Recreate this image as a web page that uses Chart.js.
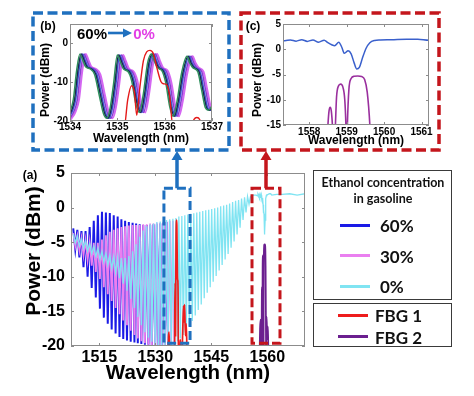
<!DOCTYPE html>
<html>
<head>
<meta charset="utf-8">
<script src="https://cdn.jsdelivr.net/npm/chart.js@4.4.1/dist/chart.umd.min.js"></script>
<style>
  html, body { margin: 0; padding: 0; background: #fff; }
  #page { position: relative; width: 474px; height: 396px; overflow: hidden; font-family: "Liberation Sans", Arial, sans-serif; }
  canvas { position: absolute; }
  .txt { position: absolute; font-weight: bold; white-space: nowrap; line-height: 1; transform: translate(-50%, -50%); }
  .rot { transform: translate(-50%, -50%) rotate(-90deg); }
  .box { position: absolute; border: 1.5px solid #3a3a3a; box-sizing: border-box; }
  .lg { position: absolute; font-family: Lato, "Open Sans", sans-serif; font-weight: bold; white-space: nowrap; line-height: 1; transform: translateY(-50%); color: #111; }
  .lgc { transform: translate(-50%, -50%); }
  .sw { position: absolute; height: 3px; width: 30px; }
</style>
</head>
<body>
<div id="page">
  <canvas id="main" width="474" height="396" style="left:0;top:0"></canvas>
  <canvas id="insetB" width="190" height="132" style="left:36px;top:16px"></canvas>
  <canvas id="insetC" width="192" height="132" style="left:244px;top:16px"></canvas>

  <div class="txt rot" style="left:32px;top:251px;font-size:21px">Power (dBm)</div>
  <div class="txt rot" style="left:45px;top:80px;font-size:12px">Power (dBm)</div>
  <div class="txt rot" style="left:257px;top:80px;font-size:12px">Power (dBm)</div>

  <div class="txt" style="left:30px;top:175px;font-size:12px">(a)</div>
  <div class="txt" style="left:48px;top:26px;font-size:12px">(b)</div>
  <div class="txt" style="left:253px;top:26px;font-size:12px">(c)</div>

  <div class="txt" style="left:92px;top:33px;font-size:15px;color:#000">60%</div>
  <svg style="position:absolute;left:107px;top:27px" width="26" height="12">
    <line x1="1" y1="6" x2="17" y2="6" stroke="#1f70bf" stroke-width="2.6"/>
    <polygon points="16,1.5 25,6 16,10.5" fill="#1f70bf"/>
  </svg>
  <div class="txt" style="left:144px;top:33px;font-size:15px;color:#e23ee6">0%</div>

  <div class="box" style="left:313px;top:170px;width:139px;height:130px"></div>
  <div class="box" style="left:313px;top:303px;width:139px;height:44px"></div>
  <div class="lg lgc" style="left:383px;top:183px;font-size:12.5px">Ethanol concentration</div>
  <div class="lg lgc" style="left:383px;top:199px;font-size:12.5px">in gasoline</div>
  <div id="legend"></div>
</div>

<script>
// panel (a): interferometer comb, one peak and one dip per fringe (nm)
const peakNm = [1508.0, 1509.1, 1510.2, 1511.3, 1512.4, 1513.5, 1514.6, 1515.7, 1516.75, 1517.8,
  1518.85, 1519.9, 1520.9, 1521.9, 1522.9, 1523.9, 1524.85, 1525.8, 1526.75, 1527.7,
  1528.6, 1529.5, 1530.4, 1531.3, 1532.15, 1533.0, 1533.85, 1534.7, 1535.5, 1536.3,
  1537.1, 1537.9, 1538.7, 1539.5, 1540.3, 1541.1, 1541.9, 1542.7, 1543.5, 1544.3,
  1545.1, 1545.9, 1546.7, 1547.5, 1548.3, 1549.1, 1549.9, 1550.7, 1551.5, 1552.3,
  1553.1, 1553.9, 1554.7];
const dipNm = [1508.55, 1509.65, 1510.75, 1511.85, 1512.95, 1514.05, 1515.15, 1516.2, 1517.25, 1518.3,
  1519.35, 1520.4, 1521.4, 1522.4, 1523.4, 1524.4, 1525.3, 1526.25, 1527.2, 1528.15,
  1529.05, 1529.95, 1530.85, 1531.7, 1532.55, 1533.4, 1534.25, 1535.1, 1535.9, 1536.7,
  1537.5, 1538.3, 1539.1, 1539.9, 1540.7, 1541.5, 1542.3, 1543.1, 1543.9, 1544.7,
  1545.5, 1546.3, 1547.1, 1547.9, 1548.7, 1549.5, 1550.3, 1551.1, 1551.9, 1552.7,
  1553.5, 1554.3, 1555.1];

// fringe tops / dips (dBm) for each ethanol concentration
const top60 = [-3.0, -3.2, -3.4, -3.4, -2.8, -1.9, -1.1, -0.6, -0.7, -0.8,
  -1.1, -1.3, -1.7, -1.9, -2.1, -2.2, -2.3, -2.4, -2.5, -2.5,
  -2.5, -2.4, -2.4, -2.3, -2.2, -2.1];
const dip60 = [-6.0, -7.2, -8.6, -10.0, -11.6, -13.0, -14.6, -15.9, -16.8, -17.6,
  -18.2, -18.7, -19.0, -19.2, -19.4, -19.5, -19.6, -19.7, -19.8, -19.8,
  -19.9, -19.9, -20, -20, -20, -19.8];
const top30 = [-3.7, -4.1, -4.4, -4.7, -5.0, -5.1, -5.1, -4.6, -4.0, -3.5,
  -3.2, -3.0, -2.8, -2.7, -2.6, -2.5, -2.5, -2.5, -2.4, -2.4,
  -2.3, -2.3, -2.2, -2.2, -2.1, -2.0, -1.9, -1.9];
const dip30 = [-5.6, -6.2, -6.9, -7.6, -8.4, -9.3, -10.3, -11.5, -12.5, -13.5,
  -14.5, -15.4, -16.3, -17.0, -17.8, -18.4, -18.9, -19.3, -19.6, -19.8,
  -19.9, -20, -20, -20, -20, -20, -19.8, -19.5];
const top0 = [-3.8, -4.1, -4.5, -4.8, -5.2, -5.6, -5.9, -6.3, -6.6, -6.9,
  -7.1, -7.2, -7.3, -7.3, -7.0, -6.3, -5.3, -4.2, -3.3, -2.7,
  -2.4, -2.3, -2.1, -2.0, -1.9, -1.8, -1.7, -1.6, -1.5, -1.3,
  -1.2, -1.1, -1.0, -0.9, -0.8, -0.7, -0.6, -0.5, -0.4, -0.3,
  -0.2, -0.1, 0.0, 0.2, 0.3, 0.4, 0.6, 0.8, 1.0, 1.1,
  1.3, 1.5, 1.6];
const dip0 = [-5.1, -5.5, -5.9, -6.3, -6.7, -7.1, -7.5, -7.9, -8.3, -8.8,
  -9.4, -10.2, -11.0, -12.0, -13.2, -14.5, -15.8, -17.0, -18.0, -18.8,
  -19.4, -19.8, -20, -20, -20, -20, -19.9, -19.7, -19.3, -18.9,
  -18.4, -17.8, -17.1, -16.4, -15.6, -14.8, -14.0, -13.1, -12.3, -11.5,
  -10.7, -9.9, -9.1, -8.3, -7.5, -6.7, -5.8, -4.9, -3.9, -2.9,
  -1.8, -0.7, 0.5];

// flat part after the comb, with the notch at FBG2 (also the trace of panel (c))
const flatNm = [1555.5, 1556.3, 1557.0, 1557.35, 1557.5, 1557.65, 1557.8, 1557.95, 1558.1, 1558.25,
  1558.4, 1558.5, 1558.6, 1558.68, 1558.79, 1558.87, 1558.94, 1559.04, 1559.12, 1559.2,
  1559.27, 1559.34, 1559.42, 1559.52, 1559.62, 1559.75, 1559.9, 1560.2, 1560.6, 1560.9,
  1561.2, 1562.5, 1564, 1566, 1568, 1570.1];
const flatDbm = [1.6, 1.8, 1.8, 1.7, 1.85, 1.6, 1.9, 1.55, 1.85, 1.4,
  1.8, 1.3, 0.9, 0.7, 1.4, 0.4, -0.8, -0.3, -0.9, -2.7,
  -3.9, -3.6, -1.8, 0.2, 1.3, 1.75, 1.85, 1.9, 2.0, 2.0,
  1.8, 1.9, 1.9, 2.0, 1.8, 2.0];

// FBG reflection spectra
const fbg1Nm = [1533.4, 1533.55, 1533.7, 1533.85, 1535.14, 1535.22, 1535.3, 1535.36, 1535.41, 1535.47,
  1535.55, 1535.62, 1535.69, 1535.76, 1535.84, 1535.92, 1535.97, 1536.04, 1536.1, 1536.18,
  1536.55, 1536.62, 1536.68, 1536.74, 1536.8, 1537.1, 1537.35, 1537.55, 1537.7, 1537.85,
  1538.05, 1538.3, 1538.5];
const fbg1Dbm = [-22, -18.5, -18, -22, -22, -14.5, -10.9, -12.5, -18.5, -12,
  -4.5, -2.2, -1.8, -2.6, -6.5, -9.8, -10.4, -10.6, -13, -22,
  -22, -19.6, -19.1, -19.6, -22, -22, -17.5, -14.2, -16.5, -14,
  -18.5, -16.8, -22];
const fbg2Nm = [1557.9, 1558.05, 1558.2, 1558.35, 1558.45, 1558.5, 1558.53, 1558.56, 1558.59, 1558.62,
  1558.66, 1558.7, 1558.73, 1558.78, 1558.84, 1558.9, 1558.95, 1558.98, 1559.0, 1559.02,
  1559.06, 1559.12, 1559.2, 1559.3, 1559.4, 1559.48, 1559.55, 1559.62, 1559.66, 1559.75,
  1559.85, 1559.95, 1560.05, 1560.15, 1560.25, 1560.4];
const fbg2Dbm = [-22, -17.5, -16.2, -18, -22, -15, -12.2, -11.5, -12.2, -15,
  -22, -15, -9.5, -7.3, -6.9, -7.5, -10, -15, -22, -15,
  -8, -5.8, -5.35, -5.3, -5.4, -6, -8.5, -15, -22, -16.5,
  -15.8, -19, -18, -17.2, -19.5, -22];

// panel (b): fringe shape of the 60% trace and the shift of each trace (60% -> 0%)
const insetNm = [1533.9, 1534.0, 1534.07, 1534.14, 1534.21, 1534.27, 1534.33, 1534.43, 1534.52, 1534.62,
  1534.71, 1534.78, 1534.85, 1534.92, 1535.0, 1535.06, 1535.13, 1535.22, 1535.3, 1535.39,
  1535.47, 1535.55, 1535.64, 1535.72, 1535.78, 1535.85, 1535.94, 1536.02, 1536.11, 1536.18,
  1536.26, 1536.36, 1536.47, 1536.53, 1536.6, 1536.7, 1536.78, 1536.86, 1536.92, 1537.0, 1537.1];
const insetDbm = [-19.6, -17.5, -14.5, -7, -2.7, -4.3, -6.0, -6.6, -8, -13.5,
  -18.2, -19.3, -16.5, -10.5, -3.0, -4.6, -6.6, -7.2, -9.5, -15.5,
  -17.8, -13, -5, -2.7, -4.5, -6.3, -7, -10, -16.5, -18.8,
  -15, -7.5, -3.3, -5, -6.3, -7.3, -12, -16.6, -17.2, -16, -12];
const insetShiftNm = [0, 0.025, 0.05, 0.085, 0.12];
const insetColors = ['#2e8f5c', '#1c2350', '#3a58d4', '#8a3ed0', '#d466f2'];

// zoomed regions marked on panel (a)
const zoomBoxNm = [[1532.3, 1539.3], [1555.9, 1563.4]];
const zoomBoxDbm = [-19.6, 2.8];

const mainXTicks = [1515, 1530, 1545, 1560];
const mainYTicks = [-20, -15, -10, -5, 0, 5];
const bXTicks = [1534, 1535, 1536, 1537];
const bYTicks = [-20, -10, 0];
const cXTicks = [1558, 1559, 1560, 1561];
const cYTicks = [-15, -10, -5, 0, 5];

const seriesNames = ['60%', '30%', '0%'];
const seriesColors = ['#1a1ae6', '#ea7ff0', '#80e4f2'];
const fbgNames = ['FBG 1', 'FBG 2'];
const fbgColors = ['#ee1c1c', '#6b1f8f'];

Chart.defaults.font.family = '"Liberation Sans", Arial, sans-serif';
Chart.defaults.font.weight = 'bold';
Chart.defaults.color = '#000';

const xy = (xs, ys) => xs.map((x, i) => ({ x, y: ys[i] }));
function comb(tops, dips, tailNm = [], tailDbm = []) {
  const pts = [];
  tops.forEach((t, i) => {
    pts.push({ x: peakNm[i], y: t });
    pts.push({ x: dipNm[i], y: dips[i] });
  });
  return pts.concat(xy(tailNm, tailDbm));
}

// gray box round the plot with small inward ticks
const framePlugin = {
  id: 'frame',
  afterDatasetsDraw(chart) {
    const { ctx, chartArea: a, scales: { x, y } } = chart;
    ctx.save();
    ctx.strokeStyle = '#8c8c8c';
    ctx.lineWidth = 1;
    ctx.strokeRect(a.left + 0.5, a.top + 0.5, a.width - 1, a.height - 1);
    ctx.beginPath();
    x.ticks.forEach(t => {
      const px = Math.round(x.getPixelForValue(t.value)) + 0.5;
      ctx.moveTo(px, a.bottom); ctx.lineTo(px, a.bottom - 3);
      ctx.moveTo(px, a.top); ctx.lineTo(px, a.top + 3);
    });
    y.ticks.forEach(t => {
      const py = Math.round(y.getPixelForValue(t.value)) + 0.5;
      ctx.moveTo(a.left, py); ctx.lineTo(a.left + 3, py);
      ctx.moveTo(a.right, py); ctx.lineTo(a.right - 3, py);
    });
    ctx.stroke();
    ctx.restore();
  }
};

// dashed zoom boxes on (a), the inset frames and the arrows between them
const insetFrames = [[33, 13, 229, 150], [241, 13, 439, 150]];
const calloutColors = ['#1f70bf', '#c4161c'];
const calloutPlugin = {
  id: 'callouts',
  afterDraw(chart) {
    const { ctx, scales: { x, y } } = chart;
    ctx.save();
    zoomBoxNm.forEach(([lo, hi], k) => {
      const l = x.getPixelForValue(lo), r = x.getPixelForValue(hi);
      const t = y.getPixelForValue(zoomBoxDbm[1]), b = y.getPixelForValue(zoomBoxDbm[0]);
      ctx.strokeStyle = calloutColors[k];
      ctx.fillStyle = calloutColors[k];
      ctx.lineWidth = 3;
      ctx.setLineDash([9, 4]);
      ctx.strokeRect(l, t, r - l, b - t);
      const [fl, ft, fr, fb] = insetFrames[k];
      ctx.lineWidth = 3.5;
      ctx.setLineDash([10, 4.5]);
      ctx.strokeRect(fl, ft, fr - fl, fb - ft);
      ctx.setLineDash([]);
      const cx = Math.round((l + r) / 2);
      ctx.lineWidth = 3.5;
      ctx.beginPath(); ctx.moveTo(cx, t); ctx.lineTo(cx, fb + 8); ctx.stroke();
      ctx.beginPath();
      ctx.moveTo(cx, fb + 1); ctx.lineTo(cx - 5.5, fb + 10); ctx.lineTo(cx + 5.5, fb + 10);
      ctx.closePath(); ctx.fill();
    });
    ctx.restore();
  }
};

function axis(min, max, tickList, size, fit, pad, title) {
  return {
    type: 'linear', min, max,
    afterBuildTicks: s => { s.ticks = tickList.map(v => ({ value: v })); },
    afterFit: s => { s[fit] = size; },
    grid: { display: false, drawTicks: false },
    border: { display: false },
    ticks: {
      padding: pad.ticks, maxRotation: 0, autoSkip: false,
      font: { size: pad.font, weight: 'bold' },
      callback: v => String(v)
    },
    title: title
      ? { display: true, text: title.text, font: { size: title.size, weight: 'bold' }, padding: { top: 0, bottom: title.pad } }
      : { display: false }
  };
}

const base = {
  responsive: false, animation: false, devicePixelRatio: 1,
  elements: { point: { radius: 0 }, line: { tension: 0 } },
  plugins: { legend: { display: false }, tooltip: { enabled: false } }
};

// (a) main spectrum
new Chart(document.getElementById('main'), {
  type: 'line',
  data: {
    datasets: [
      { data: xy(fbg1Nm, fbg1Dbm), borderColor: fbgColors[0], borderWidth: 1.7, cubicInterpolationMode: 'monotone', order: 0 },
      { data: xy(fbg2Nm, fbg2Dbm), borderColor: fbgColors[1], borderWidth: 1.7, cubicInterpolationMode: 'monotone', order: 1 },
      { data: comb(top0, dip0, flatNm, flatDbm), borderColor: seriesColors[2], borderWidth: 1.3, order: 2 },
      { data: comb(top30, dip30), borderColor: seriesColors[1], borderWidth: 1.8, order: 3 },
      { data: comb(top60, dip60), borderColor: seriesColors[0], borderWidth: 2, order: 4 }
    ]
  },
  options: {
    ...base,
    layout: { padding: { left: 0, top: 173, right: 169, bottom: 0 } },
    scales: {
      x: axis(1507.4, 1570.1, mainXTicks, 50, 'height', { ticks: 2, font: 16 }, { text: 'Wavelength (nm)', size: 20.5, pad: 10 }),
      y: axis(-20, 5, mainYTicks, 71, 'width', { ticks: 6, font: 16 })
    }
  },
  plugins: [framePlugin, calloutPlugin]
});

// (b) zoom on FBG1
new Chart(document.getElementById('insetB'), {
  type: 'line',
  data: {
    datasets: [{ data: xy(fbg1Nm, fbg1Dbm), borderColor: '#e41a1a', borderWidth: 1.4, cubicInterpolationMode: 'monotone', order: 0 }]
      .concat(insetShiftNm.map((s, k) => ({
        data: insetNm.map((x, i) => ({ x: x + s, y: insetDbm[i] })),
        borderColor: insetColors[k], borderWidth: k === 4 ? 2 : 1.5,
        cubicInterpolationMode: 'monotone', order: 1 + k
      })))
  },
  options: {
    ...base,
    layout: { padding: { left: 0, top: 5, right: 14, bottom: 0 } },
    scales: {
      x: axis(1534, 1537, bXTicks, 27, 'height', { ticks: 0, font: 10 }, { text: 'Wavelength (nm)', size: 12, pad: 2 }),
      y: axis(-20, 5, bYTicks, 34, 'width', { ticks: 2, font: 10 })
    }
  },
  plugins: [framePlugin]
});

// (c) zoom on FBG2
new Chart(document.getElementById('insetC'), {
  type: 'line',
  data: {
    datasets: [
      { data: xy(flatNm, flatDbm), borderColor: '#3a60cc', borderWidth: 1.5, cubicInterpolationMode: 'monotone', order: 0 },
      { data: xy(fbg2Nm, fbg2Dbm), borderColor: '#9a2f9e', borderWidth: 1.6, cubicInterpolationMode: 'monotone', order: 1 }
    ]
  },
  options: {
    ...base,
    layout: { padding: { left: 0, top: 8, right: 7, bottom: 0 } },
    scales: {
      x: axis(1557.3, 1561.2, cXTicks, 23, 'height', { ticks: 1, font: 10 }, { text: 'Wavelength (nm)', size: 12, pad: 0 }),
      y: axis(-15, 5, cYTicks, 39, 'width', { ticks: 2, font: 10 })
    }
  },
  plugins: [framePlugin]
});

// legend boxes
const legend = document.getElementById('legend');
const rows = [
  ...seriesNames.map((n, i) => ({ name: n, color: seriesColors[i], y: 225 + i * 30.5, sx: 340, tx: 380 })),
  ...fbgNames.map((n, i) => ({ name: n, color: fbgColors[i], y: 315 + i * 21.7, sx: 338, tx: 375 }))
];
rows.forEach(r => {
  const sw = document.createElement('div');
  sw.className = 'sw';
  sw.style.cssText = `left:${r.sx}px;top:${r.y - 1.5}px;background:${r.color}`;
  const tx = document.createElement('div');
  tx.className = 'lg';
  tx.style.cssText = `left:${r.tx}px;top:${r.y}px;font-size:17px`;
  tx.textContent = r.name;
  legend.append(sw, tx);
});
</script>
</body>
</html>
